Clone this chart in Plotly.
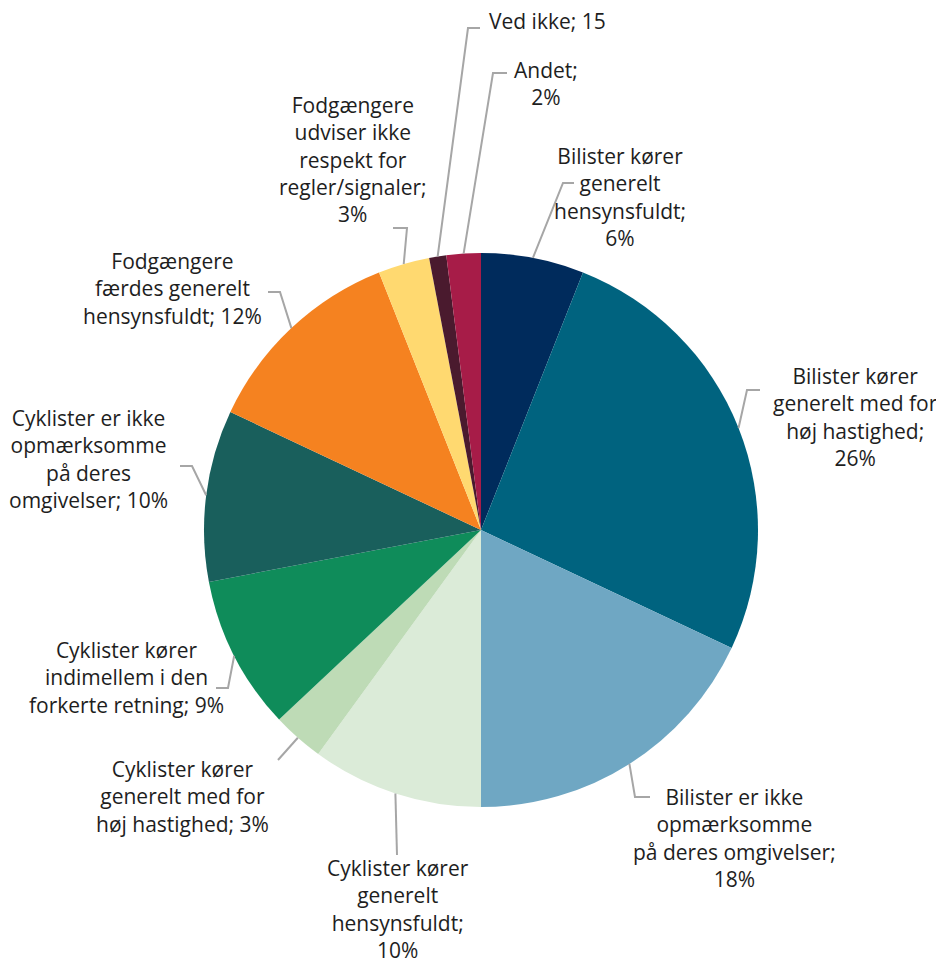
import math
import plotly.graph_objects as go

# ---- data ----
categories = [
    "Bilister kører<br>generelt<br>hensynsfuldt;<br>6%",
    "Bilister kører<br>generelt med for<br>høj hastighed;<br>26%",
    "Bilister er ikke<br>opmærksomme<br>på deres omgivelser;<br>18%",
    "Cyklister kører<br>generelt<br>hensynsfuldt;<br>10%",
    "Cyklister kører<br>generelt med for<br>høj hastighed; 3%",
    "Cyklister kører<br>indimellem i den<br>forkerte retning; 9%",
    "Cyklister er ikke<br>opmærksomme<br>på deres<br>omgivelser; 10%",
    "Fodgængere<br>færdes generelt<br>hensynsfuldt; 12%",
    "Fodgængere<br>udviser ikke<br>respekt for<br>regler/signaler;<br>3%",
    "Ved ikke; 15",
    "Andet;<br>2%",
]
values = [6, 26, 18, 10, 3, 9, 10, 12, 3, 1, 2]
colors = ["#002b5c", "#00637f", "#6fa7c3", "#dbebd8", "#bedbb6", "#0f8c5a",
          "#195f5c", "#f58220", "#ffd970", "#4a1a2e", "#a71c48"]

# ---- layout (screen-pixel positions of labels / leader line elbows) ----
W, H = 936, 965
CX, CY, R = 481, 530, 277
label_pos = [(620, 197), (855, 417), (734, 838), (398, 909), (182, 796),
             (127, 677), (88, 459), (172, 288), (353, 159), (547, 21), (546, 83)]
elbow = [(563, 183), (747, 390), (635, 797), (397, 855), (278, 760),
         (228, 688), (192, 466), (280, 292), (407, 228), (468, 28), (493, 73)]
hend = [(574, 183), (760, 390), (650, 797), (397, 855), (278, 760),
        (216, 688), (180, 466), (268, 292), (393, 228), (480, 28), (507, 73)]


def px(x):
    return x / W


def py(y):
    return 1 - y / H


fig = go.Figure(go.Pie(
    labels=[c.replace("<br>", " ") for c in categories],
    values=values,
    sort=False,
    direction="clockwise",
    rotation=0,
    marker=dict(colors=colors, line=dict(width=0)),
    textinfo="none",
    hoverinfo="skip",
    showlegend=False,
    domain=dict(x=[px(CX - R), px(CX + R)], y=[py(CY + R), py(CY - R)]),
))

total = sum(values)
cum = 0
shapes = []
annotations = []
for i, v in enumerate(values):
    mid = (cum + v / 2) / total * 2 * math.pi
    cum += v
    ex = CX + R * math.sin(mid)
    ey = CY - R * math.cos(mid)
    (bx, by), (hx, hy) = elbow[i], hend[i]
    path = f"M {px(ex)} {py(ey)} L {px(bx)} {py(by)} L {px(hx)} {py(hy)}"
    shapes.append(dict(type="path", xref="paper", yref="paper", path=path,
                       line=dict(color="#a6a6a6", width=2)))
    lx, ly = label_pos[i]
    annotations.append(dict(
        x=px(lx), y=py(ly), xref="paper", yref="paper",
        text=categories[i], showarrow=False, xanchor="center", yanchor="middle",
        align="center", font=dict(family="Open Sans", size=21, color="#1e1e1e"),
    ))

fig.update_layout(
    width=W, height=H,
    margin=dict(l=0, r=0, t=0, b=0),
    paper_bgcolor="white", plot_bgcolor="white",
    shapes=shapes, annotations=annotations,
)

fig.write_html(
    "out.html",
    config={"displayModeBar": False},
    post_script="document.body.style.margin='0px';document.body.style.overflow='hidden';",
)
